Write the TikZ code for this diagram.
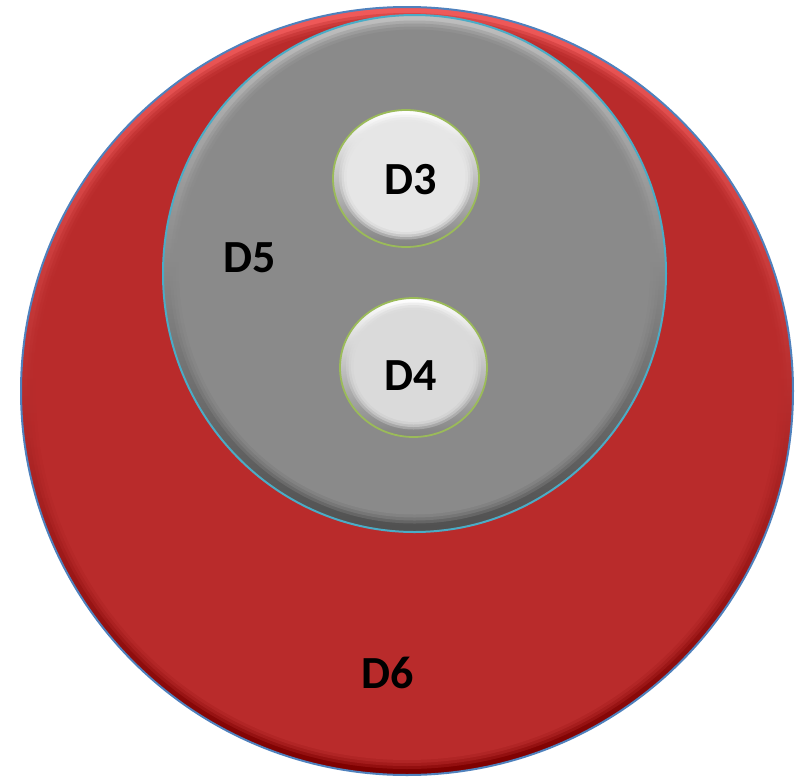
\documentclass[tikz,border=0pt]{standalone}
\usepackage{fontspec}
\setmainfont{Carlito}
\usetikzlibrary{shapes.geometric}
\definecolor{redface}{RGB}{185,43,43}
\definecolor{redhi}{RGB}{240,90,90}
\definecolor{redlo}{RGB}{125,0,0}
\definecolor{grayface}{RGB}{138,138,138}
\definecolor{grayhi}{RGB}{190,190,190}
\definecolor{graylo}{RGB}{80,80,80}
\definecolor{lightface}{RGB}{230,230,230}
\definecolor{lightfaceb}{RGB}{218,218,218}
\definecolor{lighthi}{RGB}{255,255,255}
\definecolor{lightlo}{RGB}{130,130,130}
\definecolor{blueline}{RGB}{79,129,189}
\definecolor{tealline}{RGB}{75,172,198}
\definecolor{greenline}{RGB}{155,187,89}
\begin{document}
\begin{tikzpicture}[x=1pt,y=-1pt,
  disc/.style={ellipse, inner sep=0pt, outer sep=0pt, shading angle=45},
  face/.style={ellipse, inner sep=0pt, outer sep=0pt, draw=none},
  lbl/.style={font=\fontsize{46}{46}\selectfont\bfseries, text=black, inner sep=0pt}]
\useasboundingbox (0,0) rectangle (796,777);
% D6
\node[disc, draw=blueline, line width=2pt, top color=redhi, bottom color=redlo,
      minimum width=772pt, minimum height=768pt] (d6rim) at (407,391) {};
\foreach \k/\op in {0/0.35,1/0.45,2/0.6,3/1} {
  \node[face, fill=redface, fill opacity=\op,
        minimum width={760pt-6pt*\k}, minimum height={756pt-6pt*\k}] (d6f\k) at (407,391) {};
}
% D5
\node[disc, draw=tealline, line width=2pt, top color=grayhi, bottom color=graylo,
      minimum width=503pt, minimum height=517pt] (d5rim) at (414.5,273.5) {};
\foreach \k/\op in {0/0.35,1/0.45,2/0.6,3/1} {
  \node[face, fill=grayface, fill opacity=\op,
        minimum width={489pt-6pt*\k}, minimum height={503pt-6pt*\k}] (d5f\k) at (414.5,272) {};
}
% D3
\node[disc, draw=greenline, line width=1.8pt, top color=lighthi, bottom color=lightlo,
      minimum width=146pt, minimum height=137pt] (d3rim) at (406,178.5) {};
\foreach \k/\op in {0/0.35,1/0.5,2/0.7,3/1} {
  \node[face, fill=lightface, fill opacity=\op,
        minimum width={134pt-5pt*\k}, minimum height={125pt-5pt*\k}] (d3f\k) at (406,177) {};
}
% D4
\node[disc, draw=greenline, line width=1.8pt, top color=lighthi, bottom color=lightlo,
      minimum width=147pt, minimum height=139pt] (d4rim) at (413.5,367.5) {};
\foreach \k/\op in {0/0.35,1/0.5,2/0.7,3/1} {
  \node[face, fill=lightfaceb, fill opacity=\op,
        minimum width={135pt-5pt*\k}, minimum height={127pt-5pt*\k}] (d4f\k) at (413.5,366) {};
}
% labels
\node[lbl] (t3) at (411,180) {D3};
\node[lbl] (t4) at (411,376) {D4};
\node[lbl] (t5) at (250,258) {D5};
\node[lbl] (t6) at (388,673) {D6};
\end{tikzpicture}
\end{document}
